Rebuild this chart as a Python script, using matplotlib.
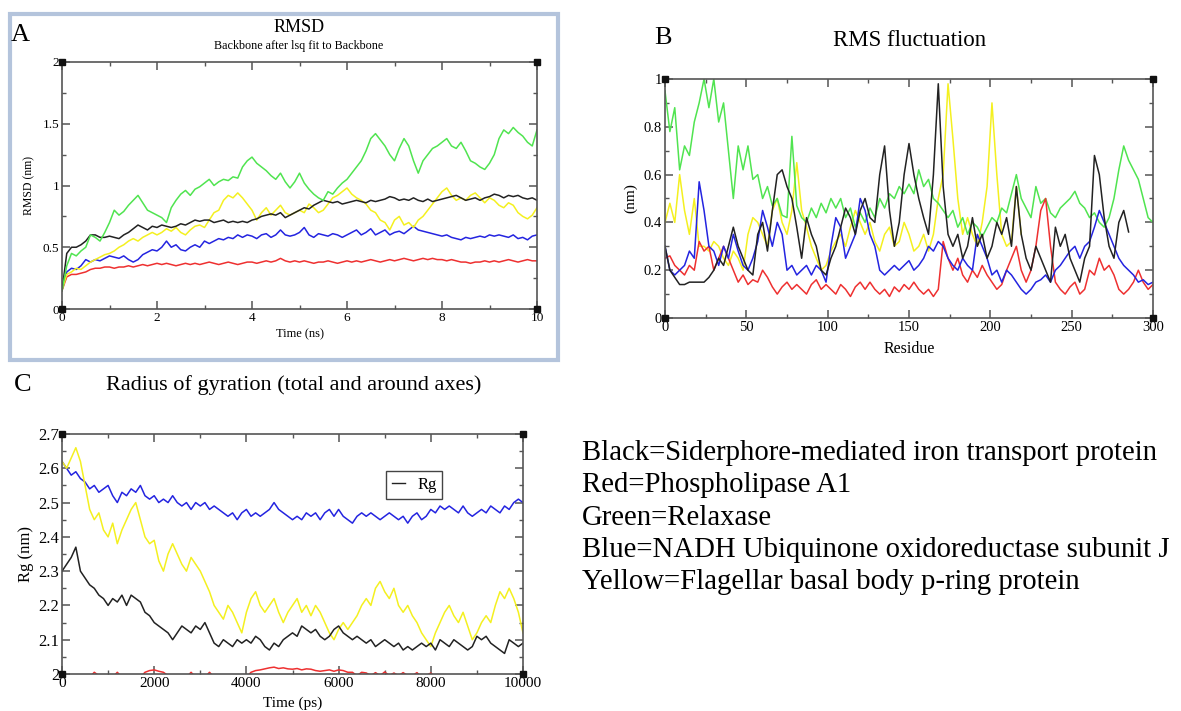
import numpy as np
import matplotlib
matplotlib.use("Agg")
import matplotlib.pyplot as plt
from matplotlib.ticker import MultipleLocator, FuncFormatter
from matplotlib.patches import Rectangle

plt.rcParams['font.family'] = ['Liberation Serif', 'DejaVu Serif']

# colours used by the Grace plots
BLACK = '#222222'
RED = '#ee3030'
GREEN = '#50e450'
BLUE = '#2424e0'
YELLOW = '#f4f020'

# ---------------- A: RMSD (ns), one value every 0.1 ns ----------------
rmsd_green = [0.15, 0.35, 0.45, 0.43, 0.47, 0.50, 0.60, 0.58, 0.55, 0.62,
              0.70, 0.80, 0.76, 0.79, 0.84, 0.88, 0.92, 0.86, 0.80, 0.78,
              0.76, 0.74, 0.70, 0.82, 0.88, 0.93, 0.96, 0.92, 0.97, 0.99,
              1.02, 1.05, 1.00, 1.03, 1.05, 1.04, 1.07, 1.06, 1.15, 1.20,
              1.23, 1.18, 1.15, 1.12, 1.08, 1.05, 1.10, 1.03, 0.98, 1.03,
              1.10, 1.02, 0.97, 0.93, 0.90, 0.88, 0.95, 0.93, 0.98, 1.02,
              1.05, 1.10, 1.15, 1.20, 1.28, 1.38, 1.42, 1.37, 1.32, 1.25,
              1.20, 1.30, 1.38, 1.32, 1.20, 1.10, 1.20, 1.25, 1.30, 1.32,
              1.35, 1.38, 1.32, 1.30, 1.35, 1.28, 1.20, 1.18, 1.15, 1.13,
              1.18, 1.25, 1.38, 1.45, 1.42, 1.47, 1.43, 1.40, 1.35, 1.32,
              1.45]
rmsd_black = [0.15, 0.45, 0.50, 0.50, 0.52, 0.55, 0.60, 0.60, 0.58, 0.58,
              0.59, 0.58, 0.57, 0.60, 0.62, 0.65, 0.68, 0.66, 0.64, 0.67,
              0.66, 0.68, 0.67, 0.66, 0.67, 0.69, 0.68, 0.70, 0.72, 0.71,
              0.72, 0.72, 0.70, 0.71, 0.72, 0.70, 0.71, 0.70, 0.71, 0.70,
              0.72, 0.73, 0.75, 0.76, 0.77, 0.76, 0.78, 0.74, 0.76, 0.78,
              0.80, 0.82, 0.81, 0.84, 0.86, 0.88, 0.87, 0.86, 0.87, 0.85,
              0.86, 0.87, 0.88, 0.87, 0.86, 0.88, 0.87, 0.88, 0.89, 0.91,
              0.90, 0.88, 0.89, 0.88, 0.90, 0.88, 0.87, 0.89, 0.87, 0.88,
              0.89, 0.90, 0.91, 0.92, 0.90, 0.88, 0.89, 0.90, 0.88, 0.90,
              0.91, 0.93, 0.92, 0.90, 0.92, 0.91, 0.92, 0.90, 0.89, 0.90,
              0.88]
rmsd_yellow = [0.15, 0.28, 0.30, 0.33, 0.32, 0.35, 0.38, 0.40, 0.42, 0.44,
               0.45, 0.47, 0.50, 0.52, 0.55, 0.57, 0.55, 0.58, 0.60, 0.62,
               0.60, 0.62, 0.65, 0.63, 0.66, 0.62, 0.60, 0.64, 0.67, 0.68,
               0.66, 0.72, 0.78, 0.80, 0.88, 0.92, 0.90, 0.94, 0.90, 0.85,
               0.80, 0.72, 0.78, 0.82, 0.76, 0.80, 0.84, 0.78, 0.76, 0.78,
               0.80, 0.78, 0.85, 0.82, 0.78, 0.80, 0.85, 0.90, 0.92, 0.95,
               0.98, 0.93, 0.90, 0.88, 0.85, 0.80, 0.78, 0.72, 0.70, 0.64,
               0.72, 0.75, 0.68, 0.70, 0.66, 0.72, 0.75, 0.80, 0.85, 0.90,
               0.95, 0.98, 0.92, 0.88, 0.90, 0.88, 0.92, 0.94, 0.90, 0.86,
               0.90, 0.88, 0.84, 0.82, 0.86, 0.84, 0.78, 0.75, 0.73, 0.76,
               0.82]
rmsd_blue = [0.15, 0.30, 0.33, 0.32, 0.35, 0.40, 0.38, 0.40, 0.39, 0.41,
             0.43, 0.42, 0.41, 0.43, 0.40, 0.38, 0.40, 0.44, 0.46, 0.48,
             0.47, 0.50, 0.55, 0.50, 0.52, 0.48, 0.47, 0.50, 0.52, 0.50,
             0.55, 0.53, 0.55, 0.57, 0.56, 0.58, 0.57, 0.60, 0.58, 0.60,
             0.59, 0.57, 0.60, 0.61, 0.58, 0.60, 0.64, 0.60, 0.59, 0.60,
             0.62, 0.66, 0.60, 0.58, 0.61, 0.60, 0.59, 0.61, 0.60, 0.58,
             0.60, 0.62, 0.64, 0.60, 0.62, 0.65, 0.60, 0.62, 0.64, 0.60,
             0.62, 0.63, 0.61, 0.64, 0.67, 0.64, 0.63, 0.62, 0.61, 0.60,
             0.59, 0.60, 0.58, 0.57, 0.56, 0.58, 0.57, 0.58, 0.59, 0.58,
             0.60, 0.59, 0.60, 0.59, 0.58, 0.60, 0.57, 0.58, 0.56, 0.59,
             0.60]
rmsd_red = [0.15, 0.26, 0.28, 0.28, 0.29, 0.30, 0.32, 0.33, 0.33, 0.34,
            0.34, 0.33, 0.34, 0.34, 0.35, 0.34, 0.35, 0.36, 0.35, 0.36,
            0.37, 0.36, 0.37, 0.36, 0.35, 0.36, 0.37, 0.36, 0.37, 0.36,
            0.37, 0.38, 0.37, 0.36, 0.37, 0.38, 0.37, 0.36, 0.37, 0.38,
            0.38, 0.37, 0.38, 0.39, 0.38, 0.39, 0.41, 0.39, 0.38, 0.39,
            0.38, 0.39, 0.38, 0.37, 0.38, 0.38, 0.39, 0.38, 0.37, 0.38,
            0.39, 0.38, 0.39, 0.38, 0.39, 0.40, 0.39, 0.38, 0.39, 0.40,
            0.39, 0.40, 0.41, 0.40, 0.39, 0.40, 0.41, 0.40, 0.41, 0.40,
            0.40, 0.39, 0.40, 0.39, 0.38, 0.38, 0.37, 0.38, 0.38, 0.39,
            0.38, 0.39, 0.38, 0.39, 0.40, 0.39, 0.38, 0.39, 0.40, 0.39,
            0.39]

# ---------------- B: RMSF per residue, one value every 3 residues ----------------
rmsf_green = [0.95, 0.78, 0.88, 0.62, 0.72, 0.68, 0.82, 0.90, 1.00, 0.88,
              1.00, 0.82, 0.90, 0.70, 0.50, 0.72, 0.62, 0.72, 0.58, 0.60,
              0.50, 0.55, 0.47, 0.50, 0.43, 0.42, 0.76, 0.47, 0.42, 0.40,
              0.46, 0.42, 0.48, 0.44, 0.50, 0.46, 0.50, 0.42, 0.46, 0.38,
              0.44, 0.40, 0.46, 0.42, 0.50, 0.46, 0.52, 0.50, 0.55, 0.52,
              0.56, 0.52, 0.62, 0.55, 0.58, 0.50, 0.48, 0.45, 0.42, 0.45,
              0.38, 0.42, 0.35, 0.40, 0.38, 0.34, 0.38, 0.42, 0.40, 0.46,
              0.44, 0.52, 0.60, 0.50, 0.46, 0.42, 0.55, 0.48, 0.50, 0.44,
              0.42, 0.46, 0.48, 0.50, 0.53, 0.48, 0.46, 0.42, 0.44, 0.40,
              0.38, 0.42, 0.50, 0.62, 0.72, 0.66, 0.62, 0.58, 0.50, 0.42,
              0.40]
rmsf_black = [0.30, 0.20, 0.17, 0.14, 0.14, 0.15, 0.15, 0.15, 0.15, 0.17,
              0.20, 0.25, 0.22, 0.30, 0.38, 0.30, 0.25, 0.20, 0.18, 0.35,
              0.40, 0.28, 0.45, 0.60, 0.62, 0.55, 0.50, 0.38, 0.25, 0.42,
              0.35, 0.30, 0.20, 0.18, 0.25, 0.30, 0.38, 0.46, 0.42, 0.35,
              0.45, 0.50, 0.42, 0.40, 0.60, 0.72, 0.45, 0.30, 0.40, 0.60,
              0.73, 0.60, 0.50, 0.42, 0.35, 0.60, 0.98, 0.55, 0.35, 0.30,
              0.35, 0.25, 0.30, 0.42, 0.30, 0.35, 0.25, 0.30, 0.40, 0.35,
              0.42, 0.30, 0.55, 0.35, 0.25, 0.20, 0.30, 0.25, 0.20, 0.15,
              0.38, 0.30, 0.35, 0.25, 0.20, 0.15, 0.25, 0.30, 0.68, 0.60,
              0.42, 0.30, 0.25, 0.40, 0.45, 0.36]
rmsf_yellow = [0.40, 0.48, 0.40, 0.60, 0.45, 0.35, 0.50, 0.30, 0.30, 0.28,
               0.32, 0.30, 0.25, 0.22, 0.28, 0.25, 0.20, 0.35, 0.42, 0.40,
               0.35, 0.30, 0.45, 0.50, 0.40, 0.35, 0.45, 0.65, 0.45, 0.38,
               0.30, 0.25, 0.20, 0.22, 0.28, 0.32, 0.35, 0.30, 0.38, 0.45,
               0.40, 0.35, 0.40, 0.32, 0.28, 0.35, 0.38, 0.30, 0.32, 0.40,
               0.35, 0.28, 0.30, 0.35, 0.28, 0.35, 0.50, 0.60, 0.98, 0.75,
               0.50, 0.35, 0.42, 0.35, 0.30, 0.40, 0.55, 0.90, 0.60, 0.35,
               0.30, 0.32, 0.55, 0.35]
rmsf_blue = [0.30, 0.20, 0.18, 0.20, 0.22, 0.28, 0.25, 0.57, 0.45, 0.30,
             0.28, 0.22, 0.30, 0.25, 0.35, 0.28, 0.22, 0.20, 0.25, 0.32,
             0.45, 0.38, 0.30, 0.40, 0.35, 0.20, 0.22, 0.18, 0.20, 0.22,
             0.18, 0.22, 0.20, 0.15, 0.30, 0.42, 0.38, 0.25, 0.30, 0.35,
             0.50, 0.45, 0.35, 0.30, 0.20, 0.18, 0.20, 0.22, 0.20, 0.22,
             0.24, 0.20, 0.22, 0.25, 0.30, 0.28, 0.32, 0.30, 0.25, 0.22,
             0.20, 0.25, 0.22, 0.20, 0.35, 0.30, 0.25, 0.18, 0.20, 0.15,
             0.20, 0.18, 0.15, 0.12, 0.10, 0.12, 0.15, 0.16, 0.18, 0.15,
             0.20, 0.22, 0.25, 0.28, 0.30, 0.25, 0.30, 0.32, 0.38, 0.45,
             0.40, 0.35, 0.30, 0.25, 0.22, 0.20, 0.18, 0.15, 0.16, 0.14,
             0.15]
rmsf_red = [0.25, 0.26, 0.22, 0.20, 0.18, 0.22, 0.20, 0.32, 0.28, 0.30,
            0.20, 0.25, 0.30, 0.25, 0.20, 0.15, 0.18, 0.14, 0.16, 0.15,
            0.20, 0.17, 0.13, 0.10, 0.13, 0.15, 0.12, 0.14, 0.12, 0.10,
            0.14, 0.16, 0.12, 0.14, 0.12, 0.10, 0.14, 0.12, 0.09, 0.13,
            0.15, 0.12, 0.15, 0.12, 0.10, 0.12, 0.09, 0.13, 0.11, 0.14,
            0.12, 0.15, 0.12, 0.10, 0.12, 0.09, 0.12, 0.32, 0.25, 0.20,
            0.25, 0.18, 0.15, 0.20, 0.17, 0.22, 0.18, 0.15, 0.12, 0.14,
            0.20, 0.25, 0.30, 0.20, 0.15, 0.20, 0.30, 0.45, 0.50, 0.30,
            0.15, 0.12, 0.10, 0.13, 0.15, 0.10, 0.12, 0.20, 0.18, 0.25,
            0.20, 0.22, 0.18, 0.12, 0.10, 0.12, 0.15, 0.20, 0.15, 0.12,
            0.14]

# ---------------- C: radius of gyration, one value every 100 ps ----------------
rg_blue = [2.62, 2.60, 2.58, 2.59, 2.57, 2.56, 2.54, 2.55, 2.53, 2.54,
           2.55, 2.52, 2.50, 2.53, 2.52, 2.54, 2.53, 2.55, 2.52, 2.51,
           2.52, 2.50, 2.51, 2.50, 2.52, 2.50, 2.49, 2.50, 2.48, 2.50,
           2.49, 2.50, 2.48, 2.49, 2.48, 2.47, 2.46, 2.47, 2.45, 2.47,
           2.48, 2.46, 2.47, 2.46, 2.47, 2.48, 2.50, 2.48, 2.47, 2.46,
           2.45, 2.46, 2.45, 2.47, 2.46, 2.47, 2.45, 2.47, 2.48, 2.46,
           2.48, 2.46, 2.45, 2.44, 2.46, 2.47, 2.46, 2.47, 2.46, 2.45,
           2.46, 2.47, 2.46, 2.45, 2.46, 2.44, 2.46, 2.47, 2.45, 2.46,
           2.48, 2.47, 2.49, 2.48, 2.49, 2.48, 2.47, 2.49, 2.47, 2.46,
           2.47, 2.48, 2.47, 2.49, 2.48, 2.47, 2.49, 2.48, 2.50, 2.51,
           2.50]
rg_yellow = [2.62, 2.60, 2.63, 2.66, 2.62, 2.55, 2.48, 2.45, 2.47, 2.42,
             2.40, 2.44, 2.38, 2.42, 2.45, 2.48, 2.50, 2.45, 2.40, 2.38,
             2.39, 2.33, 2.30, 2.35, 2.38, 2.35, 2.32, 2.30, 2.34, 2.32,
             2.30, 2.27, 2.24, 2.20, 2.18, 2.16, 2.20, 2.18, 2.15, 2.12,
             2.18, 2.22, 2.24, 2.20, 2.18, 2.20, 2.22, 2.18, 2.15, 2.18,
             2.20, 2.22, 2.18, 2.20, 2.17, 2.20, 2.18, 2.15, 2.12, 2.10,
             2.13, 2.15, 2.13, 2.15, 2.17, 2.20, 2.22, 2.20, 2.25, 2.27,
             2.24, 2.22, 2.25, 2.20, 2.18, 2.20, 2.17, 2.15, 2.12, 2.10,
             2.08, 2.12, 2.15, 2.18, 2.20, 2.17, 2.15, 2.18, 2.14, 2.10,
             2.12, 2.15, 2.17, 2.15, 2.20, 2.24, 2.22, 2.25, 2.22, 2.18,
             2.12]
rg_black = [2.30, 2.32, 2.34, 2.37, 2.30, 2.28, 2.26, 2.25, 2.23, 2.22,
            2.20, 2.22, 2.21, 2.23, 2.20, 2.23, 2.22, 2.21, 2.18, 2.17,
            2.15, 2.14, 2.13, 2.12, 2.10, 2.12, 2.14, 2.13, 2.12, 2.14,
            2.13, 2.15, 2.12, 2.09, 2.08, 2.10, 2.09, 2.08, 2.10, 2.09,
            2.10, 2.09, 2.11, 2.10, 2.08, 2.07, 2.09, 2.08, 2.10, 2.11,
            2.12, 2.11, 2.14, 2.13, 2.12, 2.13, 2.11, 2.10, 2.11, 2.13,
            2.14, 2.12, 2.11, 2.10, 2.11, 2.10, 2.09, 2.10, 2.08, 2.09,
            2.10, 2.09, 2.08, 2.09, 2.07, 2.08, 2.07, 2.08, 2.09, 2.08,
            2.09, 2.07, 2.10, 2.09, 2.08, 2.10, 2.09, 2.08, 2.07, 2.08,
            2.11, 2.10, 2.11, 2.09, 2.08, 2.07, 2.06, 2.10, 2.09, 2.08,
            2.09]
rg_red = [1.990, 1.990, 1.980, 1.990, 1.990, 1.990, 1.990, 2.005, 1.995, 1.990,
          1.990, 1.990, 2.005, 1.990, 1.990, 1.995, 1.990, 1.990, 2.005, 2.010,
          2.012, 2.008, 2.005, 1.995, 1.990, 1.990, 1.995, 1.990, 2.005, 1.990,
          1.990, 1.990, 2.005, 1.990, 1.990, 1.990, 1.995, 1.990, 1.990, 1.990,
          1.990, 2.005, 2.010, 2.012, 2.015, 2.018, 2.020, 2.016, 2.018, 2.015,
          2.014, 2.016, 2.012, 2.015, 2.014, 2.010, 2.008, 2.010, 2.012, 2.008,
          2.012, 2.010, 2.005, 2.005, 1.995, 2.005, 2.003, 1.995, 2.004, 1.995,
          2.006, 1.995, 2.003, 1.995, 2.004, 1.995, 1.995, 2.004, 1.990, 1.995,
          2.003, 1.990, 1.990, 1.995, 1.990, 1.990, 1.995, 1.990, 1.990, 1.990,
          1.990, 1.990, 1.990, 1.990, 1.990, 1.990, 1.990, 1.990, 1.990, 1.990,
          1.990]

legend_lines = ["Black=Siderphore-mediated iron transport protein",
                "Red=Phospholipase A1",
                "Green=Relaxase",
                "Blue=NADH Ubiquinone oxidoreductase subunit J",
                "Yellow=Flagellar basal body p-ring protein"]

W, H = 1181, 711


def box(l, t, r, b):
    # pixel box -> figure fraction [left, bottom, width, height]
    return [l / W, 1 - b / H, (r - l) / W, (b - t) / H]


def grace_axes(ax, xmaj, xmin, ymaj, ymin, xsize, ysize):
    for s in ax.spines.values():
        s.set_color('#555555')
        s.set_linewidth(1.2)
    ax.xaxis.set_major_locator(MultipleLocator(xmaj))
    ax.xaxis.set_minor_locator(MultipleLocator(xmin))
    ax.yaxis.set_major_locator(MultipleLocator(ymaj))
    ax.yaxis.set_minor_locator(MultipleLocator(ymin))
    fmt = FuncFormatter(lambda v, p: '{:g}'.format(round(v, 6)))
    ax.xaxis.set_major_formatter(fmt)
    ax.yaxis.set_major_formatter(fmt)
    ax.tick_params(which='both', direction='in', top=True, right=True,
                   color='#555555', pad=2)
    ax.tick_params(axis='x', labelsize=xsize)
    ax.tick_params(axis='y', labelsize=ysize)
    ax.tick_params(which='major', length=6, width=1.1)
    ax.tick_params(which='minor', length=3, width=1.0)
    # little black squares on the corners
    ax.plot([0, 1, 0, 1], [0, 0, 1, 1], 's', color='#111111', ms=4,
            transform=ax.transAxes, clip_on=False, zorder=5)


fig = plt.figure(figsize=(W / 100, H / 100), dpi=100)

# frame around panel A (screenshot border)
fig.patches.append(Rectangle((10 / W, 1 - 360 / H), 548 / W, 346 / H,
                             transform=fig.transFigure, fill=False,
                             edgecolor='#b4c4dc', linewidth=3))

lw = 1.1

# ---- A
axA = fig.add_axes(box(62, 62, 537, 309))
for vals, c in [(rmsd_red, RED), (rmsd_blue, BLUE), (rmsd_yellow, YELLOW),
                (rmsd_black, BLACK), (rmsd_green, GREEN)]:
    axA.plot(np.linspace(0, 10, len(vals)), vals, color=c, lw=lw)
axA.set_xlim(0, 10)
axA.set_ylim(0, 2)
grace_axes(axA, 2, 1, 0.5, 0.25, 9.5, 9.5)
axA.set_xlabel('Time (ns)', fontsize=9, labelpad=3)
axA.set_ylabel('RMSD (nm)', fontsize=8.5, labelpad=5)
fig.text(20 / W, 1 - 35 / H, 'A', fontsize=19, ha='center', va='center')
fig.text(299 / W, 1 - 28 / H, 'RMSD', fontsize=13, ha='center', va='center')
fig.text(299 / W, 1 - 46 / H, 'Backbone after lsq fit to Backbone',
         fontsize=8.7, ha='center', va='center')

# ---- B
axB = fig.add_axes(box(665, 79, 1153, 318))
for vals, c in [(rmsf_yellow, YELLOW), (rmsf_green, GREEN), (rmsf_red, RED),
                (rmsf_blue, BLUE), (rmsf_black, BLACK)]:
    res = np.arange(len(vals)) * 3
    axB.plot(res, vals, color=c, lw=lw)
axB.set_xlim(0, 300)
axB.set_ylim(0, 1)
grace_axes(axB, 50, 25, 0.2, 0.1, 10.5, 10.5)
axB.set_xlabel('Residue', fontsize=11.5, labelpad=5)
axB.set_ylabel('(nm)', fontsize=11, labelpad=5)
fig.text(663 / W, 1 - 38 / H, 'B', fontsize=19, ha='center', va='center')
fig.text(910 / W, 1 - 40 / H, 'RMS fluctuation', fontsize=16.5, ha='center',
         va='center')

# ---- C
axC = fig.add_axes(box(62, 434, 523, 674))
for vals, c in [(rg_blue, BLUE), (rg_yellow, YELLOW), (rg_black, BLACK),
                (rg_red, RED)]:
    ps = np.linspace(0, 10000, len(vals))
    axC.plot(ps, vals, color=c, lw=lw)
axC.set_xlim(0, 10000)
axC.set_ylim(2, 2.7)
grace_axes(axC, 2000, 1000, 0.1, 0.05, 11, 12)
axC.set_xlabel('Time (ps)', fontsize=11, labelpad=5)
axC.set_ylabel('Rg (nm)', fontsize=12, labelpad=3)
axC.plot([], [], color=BLACK, lw=1.0, label='Rg')
leg = axC.legend(loc='upper right', bbox_to_anchor=(0.843, 0.88),
                 fontsize=12, handlelength=0.8, handletextpad=0.7,
                 fancybox=False, framealpha=1, borderpad=0.35)
leg.get_frame().set_edgecolor('#444444')
leg.get_frame().set_linewidth(1.0)
fig.text(23 / W, 1 - 385 / H, 'C', fontsize=19, ha='center', va='center')
fig.text(294 / W, 1 - 385 / H, 'Radius of gyration (total and around axes)',
         fontsize=16, ha='center', va='center')

# ---- colour key
for i, line in enumerate(legend_lines):
    fig.text(582 / W, 1 - (453 + 32.3 * i) / H, line, fontsize=20.7,
             ha='left', va='center')

fig.savefig('out.png', dpi=100)
